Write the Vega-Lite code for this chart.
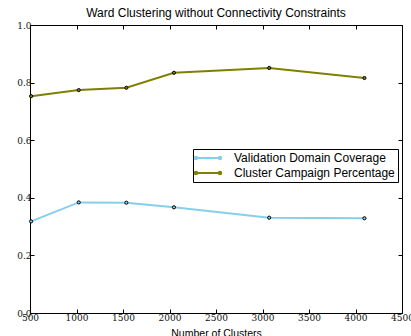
{
  "$schema": "https://vega.github.io/schema/vega-lite/v6.json",
  "width": 372,
  "height": 288,
  "autosize": {"type": "none"},
  "padding": {"left": 30, "top": 25, "right": 9, "bottom": 23},
  "background": "white",
  "title": {
    "text": "Ward Clustering without Connectivity Constraints",
    "font": "Liberation Sans",
    "fontSize": 12,
    "fontWeight": "normal",
    "color": "black",
    "offset": 1
  },
  "config": {
    "view": {"stroke": "black", "strokeWidth": 1},
    "axis": {
      "domain": false,
      "grid": false,
      "tickColor": "black",
      "tickSize": -4,
      "tickWidth": 1,
      "labelFont": "DejaVu Serif",
      "labelFontSize": 9,
      "labelColor": "#111",
      "titleFont": "Liberation Sans",
      "titleFontSize": 10.5,
      "titleFontWeight": "normal",
      "titleColor": "black"
    }
  },
  "datasets": {
    "scores": [
      {"clusters": 512, "series": "Validation Domain Coverage", "value": 0.318},
      {"clusters": 1024, "series": "Validation Domain Coverage", "value": 0.384},
      {"clusters": 1536, "series": "Validation Domain Coverage", "value": 0.383},
      {"clusters": 2048, "series": "Validation Domain Coverage", "value": 0.367},
      {"clusters": 3072, "series": "Validation Domain Coverage", "value": 0.331},
      {"clusters": 4096, "series": "Validation Domain Coverage", "value": 0.329},
      {"clusters": 512, "series": "Cluster Campaign Percentage", "value": 0.753},
      {"clusters": 1024, "series": "Cluster Campaign Percentage", "value": 0.774},
      {"clusters": 1536, "series": "Cluster Campaign Percentage", "value": 0.782},
      {"clusters": 2048, "series": "Cluster Campaign Percentage", "value": 0.834},
      {"clusters": 3072, "series": "Cluster Campaign Percentage", "value": 0.851},
      {"clusters": 4096, "series": "Cluster Campaign Percentage", "value": 0.816}
    ]
  },
  "data": {"name": "scores"},
  "layer": [
    {
      "mark": {"type": "line", "strokeWidth": 2},
      "encoding": {
        "x": {
          "field": "clusters", "type": "quantitative",
          "scale": {"domain": [500, 4500], "nice": false, "zero": false},
          "axis": {"values": [500, 1000, 1500, 2000, 2500, 3000, 3500, 4000, 4500], "title": "Number of Clusters", "labelPadding": 4, "titlePadding": 6, "labelFlush": false, "format": "d"}
        },
        "y": {
          "field": "value", "type": "quantitative",
          "scale": {"domain": [0, 1], "nice": false},
          "axis": {"values": [0, 0.2, 0.4, 0.6, 0.8, 1.0], "format": ".1f", "title": null, "labelPadding": 3}
        },
        "color": {
          "field": "series", "type": "nominal",
          "scale": {
            "domain": ["Validation Domain Coverage", "Cluster Campaign Percentage"],
            "range": ["#87CEEB", "#808000"]
          },
          "legend": {
            "title": null,
            "orient": "none",
            "legendX": 163,
            "legendY": 124,
            "direction": "vertical",
            "fillColor": "white",
            "strokeColor": "black",
            "padding": 3,
            "rowPadding": 3,
            "labelFont": "Liberation Sans",
            "labelFontSize": 12,
            "labelLimit": 400,
            "labelColor": "black",
            "labelOffset": 20,
            "symbolOffset": 6,
            "symbolType": "M-2.4,0L2.4,0M-2.65,0a0.25,0.25 0 1,0 0.5,0a0.25,0.25 0 1,0 -0.5,0M2.15,0a0.25,0.25 0 1,0 0.5,0a0.25,0.25 0 1,0 -0.5,0",
            "symbolSize": 100,
            "symbolStrokeWidth": 2,
            "symbolFillColor": "black"
          }
        }
      }
    },
    {
      "mark": {"type": "point", "filled": true, "size": 10, "stroke": "black", "strokeWidth": 1, "opacity": 1},
      "encoding": {
        "x": {"field": "clusters", "type": "quantitative", "axis": {"orient": "top", "labels": false, "title": null, "values": [500, 1000, 1500, 2000, 2500, 3000, 3500, 4000, 4500]}},
        "y": {"field": "value", "type": "quantitative", "axis": {"orient": "right", "labels": false, "title": null, "values": [0, 0.2, 0.4, 0.6, 0.8, 1.0]}},
        "fill": {"field": "series", "type": "nominal", "scale": {"domain": ["Validation Domain Coverage", "Cluster Campaign Percentage"], "range": ["#87CEEB", "#808000"]}, "legend": null}
      }
    }
  ],
  "resolve": {"axis": {"x": "independent", "y": "independent"}}
}
